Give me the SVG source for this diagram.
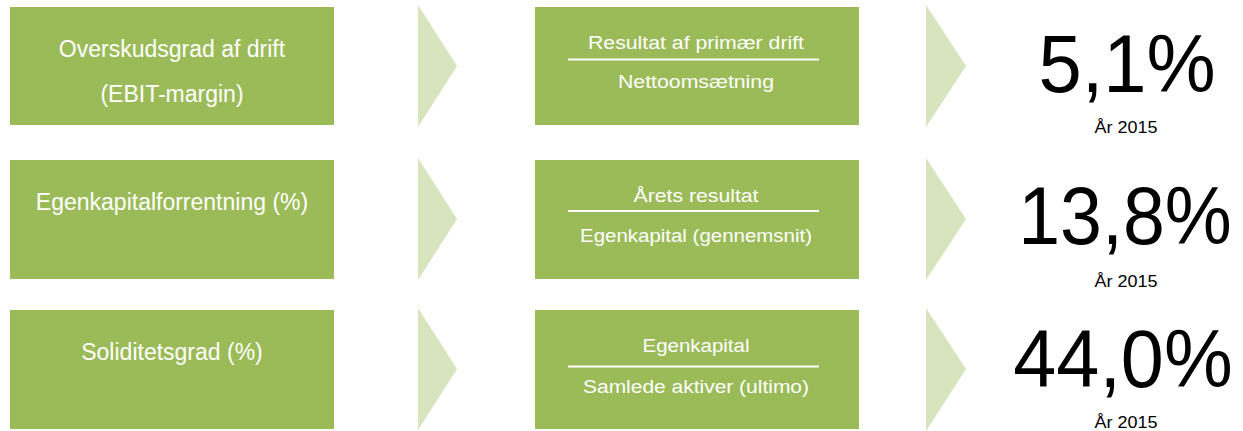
<svg xmlns="http://www.w3.org/2000/svg" width="1243" height="431" viewBox="0 0 1243 431">
<style>
.box{fill:#9BBB59}
.arr{fill:#D7E4BD}
.lt{font-family:"Liberation Sans",Arial,sans-serif;font-size:23px;fill:#FFFFFF;text-anchor:middle}
.mt{font-family:"Liberation Sans",Arial,sans-serif;font-size:18px;fill:#FFFFFF;text-anchor:middle}
.big{font-family:"Liberation Sans",Arial,sans-serif;font-size:81px;fill:#000000;text-anchor:middle}
.yr{font-family:"Liberation Sans",Arial,sans-serif;font-size:16px;fill:#000000;text-anchor:middle}
.rule{stroke:#FFFFFF;stroke-width:2}
</style>
<rect width="1243" height="431" fill="#FFFFFF"/>
<g id="connectors">
<polygon class="arr" points="418,5 457,66 418,127"/>
<polygon class="arr" points="418,158 457,219 418,280"/>
<polygon class="arr" points="418,308 457,369 418,430"/>
<polygon class="arr" points="926,5 966,66 926,127"/>
<polygon class="arr" points="926,158 966,219 926,280"/>
<polygon class="arr" points="926,308 966,369 926,431"/>
</g>
<g id="label-ebit">
<rect class="box" x="10" y="7" width="324" height="118"/>
<text class="lt" x="172" y="57">Overskudsgrad af drift</text>
<text class="lt" x="172" y="102">(EBIT-margin)</text>
</g>
<g id="label-ek">
<rect class="box" x="10" y="160" width="324" height="119"/>
<text class="lt" x="172" y="210">Egenkapitalforrentning (%)</text>
</g>
<g id="label-sol">
<rect class="box" x="10" y="310" width="324" height="119"/>
<text class="lt" x="172" y="360">Soliditetsgrad (%)</text>
</g>
<g id="formula-ebit">
<rect class="box" x="535" y="7" width="324" height="118"/>
<text class="mt" x="696" y="49" textLength="216" lengthAdjust="spacingAndGlyphs">Resultat af primær drift</text>
<line class="rule" x1="568" y1="59.5" x2="819" y2="59.5"/>
<text class="mt" x="696" y="88" textLength="156" lengthAdjust="spacingAndGlyphs">Nettoomsætning</text>
</g>
<g id="formula-ek">
<rect class="box" x="535" y="160" width="324" height="119"/>
<text class="mt" x="696" y="202" textLength="125" lengthAdjust="spacingAndGlyphs">Årets resultat</text>
<line class="rule" x1="568" y1="211" x2="819" y2="211"/>
<text class="mt" x="696" y="242" textLength="232" lengthAdjust="spacingAndGlyphs">Egenkapital (gennemsnit)</text>
</g>
<g id="formula-sol">
<rect class="box" x="535" y="310" width="324" height="119"/>
<text class="mt" x="696" y="352" textLength="107" lengthAdjust="spacingAndGlyphs">Egenkapital</text>
<line class="rule" x1="568" y1="366.5" x2="819" y2="366.5"/>
<text class="mt" x="696" y="393" textLength="226" lengthAdjust="spacingAndGlyphs">Samlede aktiver (ultimo)</text>
</g>
<g id="value-ebit">
<text class="big" transform="translate(1127,92) scale(0.96,1)">5,1%</text>
<text class="yr" x="1126" y="133" textLength="63" lengthAdjust="spacingAndGlyphs">År 2015</text>
</g>
<g id="value-ek">
<text class="big" transform="translate(1125,244) scale(0.93,1)">13,8%</text>
<text class="yr" x="1126" y="287" textLength="63" lengthAdjust="spacingAndGlyphs">År 2015</text>
</g>
<g id="value-sol">
<text class="big" transform="translate(1123,387) scale(0.955,1)">44,0%</text>
<text class="yr" x="1126" y="428" textLength="63" lengthAdjust="spacingAndGlyphs">År 2015</text>
</g>
</svg>
